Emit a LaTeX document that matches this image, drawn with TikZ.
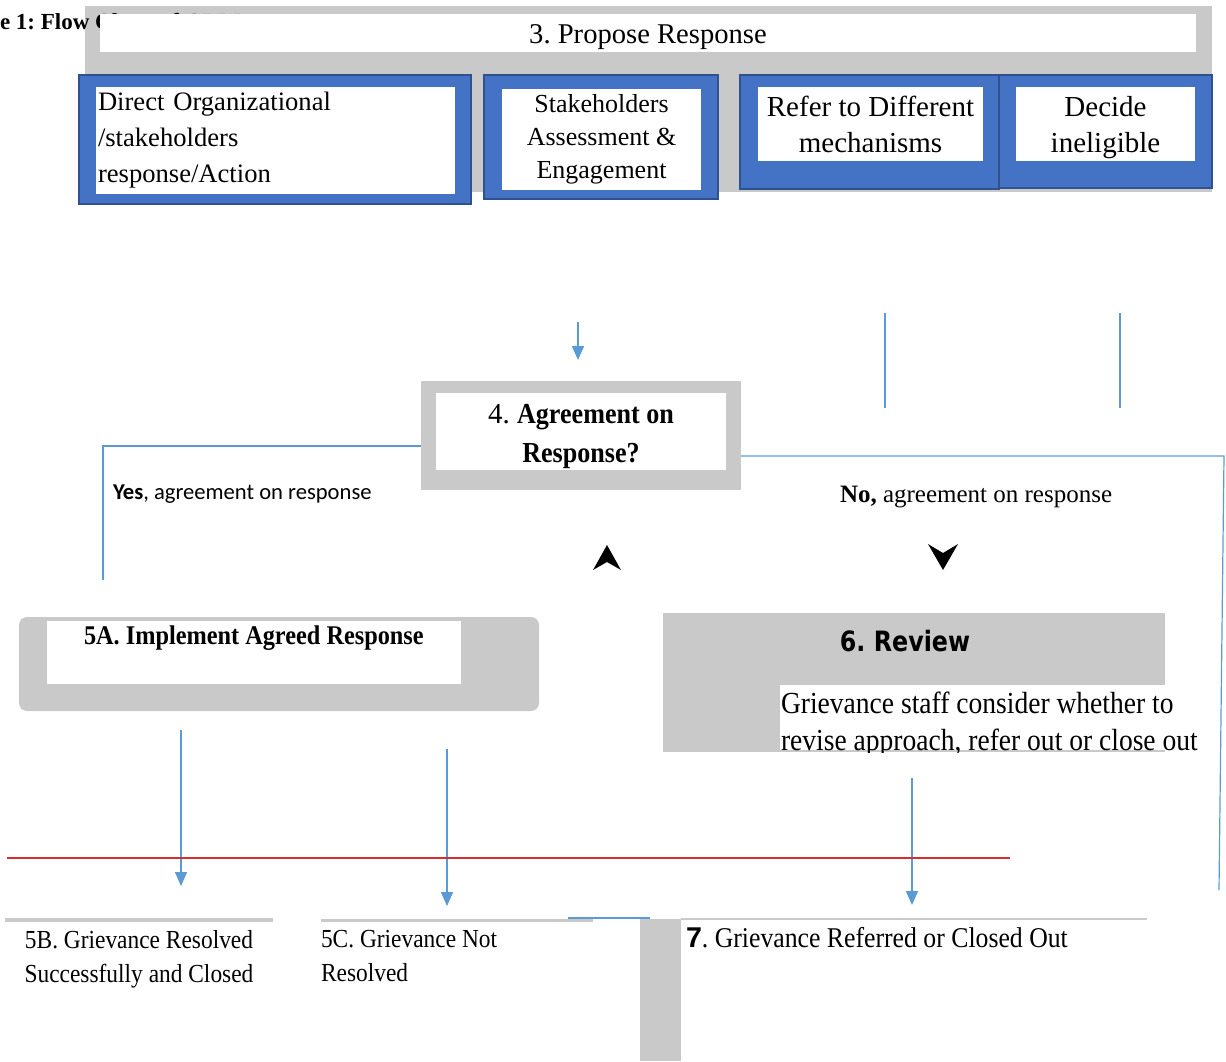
\documentclass[tikz,border=0pt]{standalone}
\usepackage{fontspec}
\setmainfont{Liberation Serif}
\newfontfamily\narrowserif[FakeStretch=0.9]{Liberation Serif}
\newfontfamily\calibrifont{Carlito}
\newfontfamily\reviewfont[FakeStretch=0.85]{DejaVu Sans}
\newfontfamily\arialfont{Liberation Sans}
\usepackage{xcolor}
\usetikzlibrary{positioning, arrows.meta}
\definecolor{boxblue}{HTML}{4472C4}
\definecolor{edgeblue}{HTML}{2F528F}
\definecolor{boxgrey}{HTML}{C9C9C9}
\definecolor{linkblue}{HTML}{5B9BD5}
\definecolor{cutred}{HTML}{D62D2D}
\frenchspacing
\tikzstyle{arrow} = [
    linkblue,
    line width=0.8pt,
    -{Triangle[width=6pt,length=7pt]}
]
\tikzstyle{link} = [
    linkblue,
    line width=0.6pt
]

\begin{document}
\begin{tikzpicture}[
    x=0.5pt, y=-0.5pt,
    every node/.style={
        inner sep=0pt,
        outer sep=0pt,
        anchor=north west
    },
    frame/.style={
        fill=boxblue,
        draw=edgeblue,
        line width=0.6pt
    },
    greyframe/.style={
        fill=boxgrey
    },
    whitebox/.style={
        fill=white,
        align=center
    },
    bottomtext/.style={
        font=\narrowserif\fontsize{13}{17}\selectfont
    }
]
\useasboundingbox (0,0) rectangle (1226,1061);

% Step 3
\node[greyframe, minimum width=563.5pt, minimum height=93pt] (propose-frame) at (85,6) {};
\node[font=\bfseries\fontsize{11.5}{14}\selectfont, anchor=base west] (caption) at (0,29) {e 1: Flow Chart of GRM};
\node[whitebox, minimum width=548pt, minimum height=19pt, text height=10pt, text depth=0pt, font=\fontsize{14.3}{16}\selectfont] (propose) at (100,14) {3. Propose Response};

\node[frame, minimum width=196pt, minimum height=64.5pt] (direct-frame) at (79,75) {};
\node[whitebox, align=left, text width=177.5pt, inner xsep=1pt, minimum height=53.5pt, font=\fontsize{13.3}{18}\selectfont] (direct) at (96,87) {Direct Organizational\\/stakeholders\\response/Action};

\node[frame, minimum width=117pt, minimum height=62pt] (stake-frame) at (484,75) {};
\node[whitebox, minimum width=99.5pt, minimum height=50.5pt, font=\fontsize{13}{16.5}\selectfont] (stake) at (502,89) {Stakeholders\\Assessment \&\\Engagement};

\node[frame, minimum width=129.5pt, minimum height=57pt] (refer-frame) at (740,75) {};
\node[whitebox, minimum width=112.5pt, minimum height=37pt, font=\fontsize{14.5}{18}\selectfont] (refer) at (758,87) {Refer to Different\\mechanisms};

\node[frame, minimum width=106.5pt, minimum height=56.5pt] (decide-frame) at (999,75) {};
\node[whitebox, minimum width=89.5pt, minimum height=37pt, text depth=0pt, font=\fontsize{14.5}{18}\selectfont] (decide) at (1016,87) {Decide\\ineligible};

% Stubs under step 3
\coordinate (drop-top) at (578,322);
\coordinate (drop-end) at (578,360);
\coordinate (refer-stub-top) at (885,313);
\coordinate (refer-stub-end) at (885,408);
\coordinate (decide-stub-top) at (1120,313);
\coordinate (decide-stub-end) at (1120,408);
\draw[arrow] (drop-top) -- (drop-end);
\draw[link] (refer-stub-top) -- (refer-stub-end);
\draw[link] (decide-stub-top) -- (decide-stub-end);

% Step 4
\node[greyframe, minimum width=160pt, minimum height=54.5pt] (agree-frame) at (421,381) {};
\node[whitebox, minimum width=145pt, minimum height=38.5pt, font=\fontsize{14.5}{19.5}\selectfont] (agree) at (436,393) {};
\node[align=center, anchor=north, font=\fontsize{14.5}{19.5}\selectfont] (agree-text) at (581,404) {4. {\narrowserif\bfseries Agreement on}\\{\narrowserif\bfseries Response?}};

\coordinate (yes-turn) at (103,446);
\coordinate (yes-end) at (103,580);
\coordinate (no-turn) at (1224,456);
\coordinate (no-end) at (1219,890);
\draw[link] (agree-frame.west |- yes-turn) -- (yes-turn) -- (yes-end);
\draw[link] (agree-frame.east |- no-turn) -- (no-turn) -- (no-end);

\node[font=\calibrifont\fontsize{11.3}{13}\selectfont, anchor=base west] (yes-label) at (113,499) {\textbf{Yes}, agreement on response};
\node[font=\fontsize{12.5}{14}\selectfont, anchor=base west] (no-label) at (840,502) {\textbf{No,} agreement on response};

% loose arrow tips
\fill (607,545) -- (621,570) -- (607,562) -- (593,570) -- cycle;
\fill (943,570) -- (958,544) -- (943,553) -- (928,544) -- cycle;

% Step 5A
\node[greyframe, rounded corners=4pt, minimum width=260pt, minimum height=47pt] (implement-frame) at (19,617) {};
\node[fill=white, minimum width=207pt, minimum height=31.5pt] (implement-box) at (47,621) {};
\node[font=\narrowserif\bfseries\fontsize{13.5}{16}\selectfont, anchor=west] (implement) at (84,638) {5A. Implement Agreed Response};

% Step 6
\node[greyframe, minimum width=251pt, minimum height=69.5pt] (review-frame) at (663,613) {};
\node[font=\reviewfont\bfseries\fontsize{14}{17}\selectfont, anchor=center] (review) at (905,641) {6. Review};
\node[fill=white, minimum width=192.5pt, minimum height=32.5pt] (review-patch) at (780,685) {};
\begin{scope}
    \clip (663,613) rectangle (1226,752);
    \node[font=\narrowserif\fontsize{15.3}{18.5}\selectfont, align=left] (review-note) at (781,692) {Grievance staff consider whether to\\revise approach, refer out or close out};
\end{scope}

% Arrows down
\coordinate (implement-drop) at (181,730);
\coordinate (resolved-top) at (181,886);
\coordinate (notres-drop) at (447,749);
\coordinate (notres-top) at (447,906);
\coordinate (review-drop) at (912,778);
\coordinate (closed-top) at (912,905);
\draw[arrow] (implement-drop) -- (resolved-top);
\draw[arrow] (notres-drop) -- (notres-top);
\draw[arrow] (review-drop) -- (closed-top);

\coordinate (cut-left) at (7,858);
\coordinate (cut-right) at (1010,858);
\draw[cutred, line width=0.75pt] (cut-left) -- (cut-right);

% Step 5B, 5C, 7
\draw[boxgrey, line width=2pt] (5,920) -- (273,920);
\node[bottomtext, align=center, anchor=north] (resolved) at (139,930) {5B. Grievance Resolved\\Successfully and Closed};

\draw[boxgrey, line width=1.5pt] (321,920) -- (593,920);
\node[bottomtext, align=left] (notres) at (321,930) {5C. Grievance Not\\Resolved};
\draw[link] (568,918) -- (650,918);

\node[greyframe, minimum width=20.5pt, minimum height=71pt] (closed-bar) at (640,919) {};
\draw[boxgrey, line width=0.75pt] (closed-bar.north east) -- (1147,919);
\node[font=\narrowserif\fontsize{14.3}{17}\selectfont] (closed) at (686,927) {{\arialfont\bfseries 7}. Grievance Referred or Closed Out};

\end{tikzpicture}
\end{document}
